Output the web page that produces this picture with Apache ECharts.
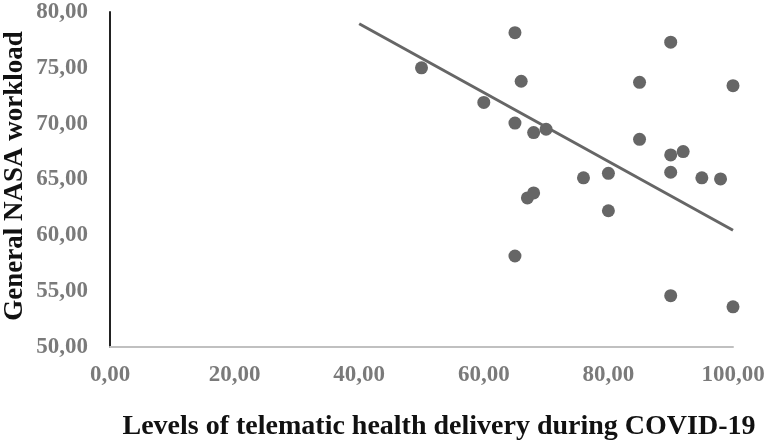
<!DOCTYPE html>
<html>
<head>
<meta charset="utf-8">
<script src="https://cdn.jsdelivr.net/npm/echarts@6/dist/echarts.min.js"></script>
<style>
html,body{margin:0;padding:0;background:#ffffff;}
#chart{width:768px;height:443px;}
</style>
</head>
<body>
<div id="chart"></div>
<script>
// Levels of telematic health delivery (x) and General NASA workload (y)
var xValues = [65, 50, 66, 90, 85, 100, 60, 65, 68, 70, 85, 90, 92, 76, 80, 90, 95, 98, 67, 68, 80, 65, 90, 100];
var yValues = [78.15, 75.0, 73.8, 77.3, 73.7, 73.4, 71.9, 70.05, 69.2, 69.5, 68.6, 67.2, 67.5, 65.15, 65.55, 65.65, 65.15, 65.05, 63.35, 63.8, 62.2, 58.15, 54.6, 53.6];
// Linear trend line end points
var trendX = [40, 100];
var trendY = [78.95, 60.45];
var xTicks = [0, 20, 40, 60, 80, 100];
var yTicks = [50, 55, 60, 65, 70, 75, 80];
var xTitle = 'Levels of telematic health delivery during COVID-19';
var yTitle = 'General NASA workload';

var fmt = function (v) { return v.toFixed(2).replace('.', ','); };
var points = xValues.map(function (x, i) { return [x, yValues[i]]; });
var trend = trendX.map(function (x, i) { return [x, trendY[i]]; });
var FONT = '"Liberation Serif", "Times New Roman", serif';

var chart = echarts.init(document.getElementById('chart'), null, {renderer: 'canvas'});
chart.setOption({
  backgroundColor: '#ffffff',
  animation: false,
  grid: {left: 110, right: 35, top: 12, bottom: 96, containLabel: false},
  xAxis: {
    type: 'value', min: xTicks[0], max: xTicks[xTicks.length - 1], interval: 20,
    axisLine: {show: true, lineStyle: {color: '#c0c0c0', width: 2}},
    axisTick: {show: false},
    splitLine: {show: false},
    axisLabel: {formatter: fmt, color: '#7a7a7a', fontFamily: FONT, fontWeight: 'bold', fontSize: 23, margin: 17}
  },
  yAxis: {
    type: 'value', min: yTicks[0], max: yTicks[yTicks.length - 1], interval: 5,
    axisLine: {show: true, lineStyle: {color: '#222222', width: 2}},
    axisTick: {show: false},
    splitLine: {show: false},
    axisLabel: {formatter: fmt, color: '#7a7a7a', fontFamily: FONT, fontWeight: 'bold', fontSize: 23, margin: 22}
  },
  series: [
    {
      type: 'line', data: trend, showSymbol: false, symbol: 'none',
      lineStyle: {color: '#666666', width: 3}, z: 2
    },
    {
      type: 'scatter', data: points, symbolSize: 13,
      itemStyle: {color: '#666666', opacity: 1}, z: 3
    }
  ],
  graphic: [
    {
      type: 'text', x: 439, y: 427,
      style: {text: xTitle, x: 0, y: 0, font: 'bold 28px ' + FONT, fill: '#111111', align: 'center', verticalAlign: 'middle'}
    },
    {
      type: 'text', x: 15, y: 176, rotation: Math.PI / 2,
      style: {text: yTitle, x: 0, y: 0, font: 'bold 27px ' + FONT, fill: '#111111', align: 'center', verticalAlign: 'middle'}
    }
  ]
});
</script>
</body>
</html>
